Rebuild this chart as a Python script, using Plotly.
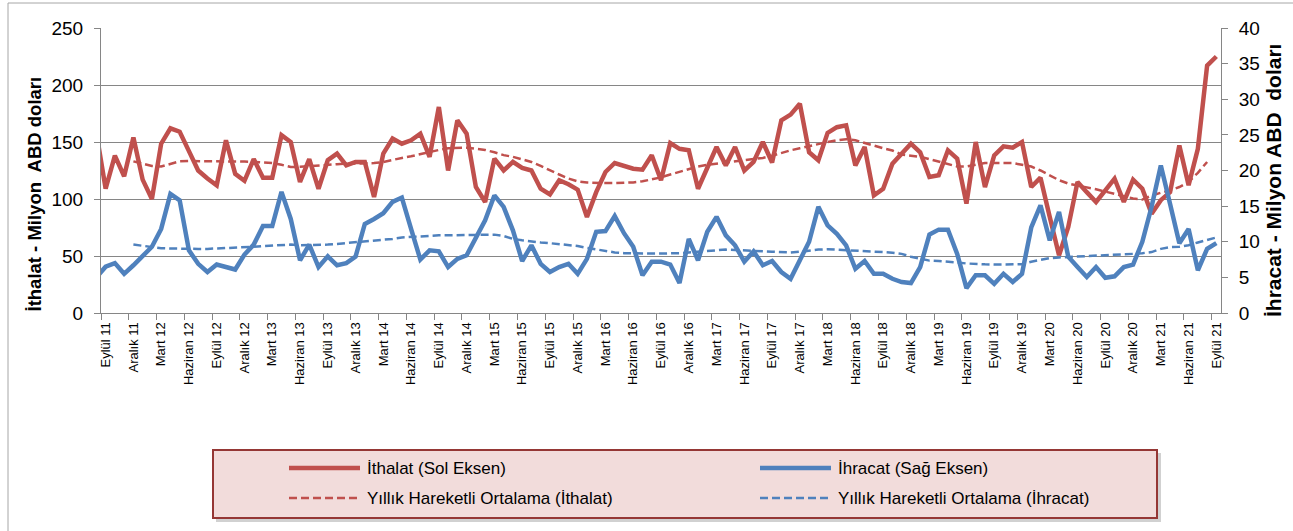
import plotly.graph_objects as go

# ---------------- data ----------------
MONTHS_TR = ["Ocak", "Şubat", "Mart", "Nisan", "Mayıs", "Haziran",
             "Temmuz", "Ağustos", "Eylül", "Ekim", "Kasım", "Aralık"]

# monthly categories Ağustos 11 ... Eylül 21 (first one lies just left of the axis)
categories = []
_y, _m = 2011, 8
while (_y, _m) <= (2021, 9):
    categories.append(f"{MONTHS_TR[_m - 1]} {_y % 100:02d}")
    _m += 1
    if _m > 12:
        _m, _y = 1, _y + 1

# Imports, million USD (left axis)
ithalat = [
    158,
    109, 138, 120, 154, 117, 100, 148.5, 162, 159, 142, 125, 118,
    112, 151.5, 122, 116, 135, 118.7, 118.7, 156, 150, 115, 135, 109,
    134, 139.8, 129.5, 132.5, 132.5, 101.8, 139.8, 153, 148.5, 151.5, 157.3, 137,
    180.7, 125, 169, 157.3, 110.5, 97.4, 135.4, 125, 132.5, 127.2, 125, 109,
    104, 116.4, 112.9, 108.2, 84.2, 106, 123.7, 131.6, 128.7, 126.6, 125.7, 138.3,
    116.4, 149, 144, 142.7, 109, 128, 145.6, 129.5, 145.6, 125, 132.5, 150,
    132, 169, 174, 183.6, 141, 134, 158, 163, 164.6, 129.5, 145.6, 103.2,
    109, 131, 139.8, 148.5, 141, 119.3, 120.8, 142.7, 135.4, 95.9, 150, 110.5,
    138.3, 146.2, 145, 150, 110.5, 118.7, 84.2, 50.6, 75.4, 115, 106, 97.4,
    107.6, 117.8, 97.4, 117, 109, 87, 99, 106, 147, 112, 144, 217,
    225,
]

# Exports, million USD (right axis)
ihracat = [
    5.0,
    6.5, 7.0, 5.5, 6.7, 7.9, 9.3, 11.8, 16.7, 15.8, 8.8, 6.9, 5.75,
    6.8, 6.45, 6.1, 8.2, 9.6, 12.2, 12.2, 17.0, 13.2, 7.4, 9.6, 6.45,
    7.95, 6.7, 7.0, 7.9, 12.5, 13.2, 14.0, 15.6, 16.2, 11.8, 7.5, 8.8,
    8.65, 6.45, 7.6, 8.1, 10.7, 13.0, 16.5, 14.9, 11.6, 7.3, 9.5, 6.9,
    5.75, 6.45, 6.9, 5.5, 7.6, 11.4, 11.5, 13.6, 11.2, 9.3, 5.3, 7.2,
    7.2, 6.8, 4.2, 10.4, 7.4, 11.4, 13.5, 10.9, 9.5, 7.2, 8.65, 6.7,
    7.3, 5.75, 4.8, 7.4, 10.0, 14.9, 12.3, 11.1, 9.5, 6.2, 7.3, 5.5,
    5.5, 4.8, 4.35, 4.2, 6.45, 11.0, 11.7, 11.7, 8.3, 3.5, 5.3, 5.3,
    4.1, 5.5, 4.35, 5.5, 12.0, 15.1, 10.2, 14.2, 7.9, 6.45, 5.05, 6.45,
    4.95, 5.15, 6.45, 6.8, 10.0, 14.9, 20.7, 15.3, 9.8, 11.8, 6.0, 9.0,
    9.8,
]

# 12-month moving averages (start Aralık 11)
ithalat_ort = [
    None, None, None, None,
    133, 131, 129, 128.5, 131, 133, 133.3, 133.3, 133,
    133, 133, 133, 132.8, 132.5, 132, 131.5, 130, 128, 128.3, 129,
    129.5, 130, 130.5, 131, 131, 131, 131.5, 132.5, 134.5, 136, 137.5, 139.5,
    141.5, 143, 144.5, 145, 145, 144, 143, 141, 138.5, 137, 135, 132.5,
    129, 125, 121.5, 118, 115.5, 114.5, 114, 114, 114, 114, 114.5, 115.5,
    117, 119, 121.5, 124, 126.5, 128.5, 130, 131, 132, 133, 134, 135,
    136, 138, 140.5, 142.7, 144.5, 146.5, 148.5, 150, 151.5, 152.5, 151.5, 149,
    147, 144.5, 142.5, 139, 138, 137, 135, 133, 130.5, 128.5, 128.5, 130,
    131.5, 131.5, 131.5, 131.5, 130, 128.5, 125, 120.5, 116.5, 113.5, 112, 110.5,
    108.5, 106.5, 104.7, 102.5, 100.5, 99.5, 103, 105.5, 107.5, 110.5, 115, 123,
    132.5,
]

ihracat_ort = [
    None, None, None, None,
    9.6, 9.4, 9.2, 9.1, 9.05, 9.0, 9.0, 9.0, 9.0,
    9.05, 9.1, 9.1, 9.2, 9.3, 9.4, 9.5, 9.6, 9.6, 9.5, 9.5, 9.55,
    9.6, 9.7, 9.8, 9.9, 10.0, 10.1, 10.2, 10.4, 10.6, 10.7, 10.8, 10.85,
    10.9, 10.9, 10.9, 10.9, 10.95, 11.0, 11.0, 10.8, 10.4, 10.2, 10.0, 9.9,
    9.8, 9.7, 9.6, 9.4, 9.15, 8.9, 8.65, 8.5, 8.4, 8.35, 8.35, 8.35,
    8.35, 8.35, 8.4, 8.5, 8.6, 8.75, 8.85, 8.9, 8.85, 8.75, 8.7, 8.65,
    8.6, 8.5, 8.5, 8.6, 8.8, 8.9, 8.95, 8.9, 8.85, 8.8, 8.75, 8.65,
    8.55, 8.45, 8.3, 7.9, 7.6, 7.35, 7.3, 7.25, 7.1, 6.95, 6.85, 6.83,
    6.8, 6.8, 6.8, 6.85, 7.2, 7.45, 7.7, 7.8, 7.85, 7.9, 7.95, 8.0,
    8.05, 8.1, 8.2, 8.3, 8.4, 8.55, 9.0, 9.25, 9.3, 9.5, 9.9, 10.2,
    10.6,
]

series_names = ["İthalat (Sol Eksen)", "İhracat (Sağ Eksen)",
                "Yıllık Hareketli Ortalama (İthalat)", "Yıllık Hareketli Ortalama (İhracat)"]
left_title = "İthalat - Milyon\u00a0 ABD doları"
right_title = "İhracat - Milyon ABD\u00a0 doları"

# ---------------- figure ----------------
x = list(range(-1, len(categories) - 1))      # Eylül 11 -> 0
tick_pos = [v for v in x if v >= 0 and v % 3 == 0]
tick_txt = [categories[v + 1] for v in tick_pos]

RED = "#C0504D"
BLUE = "#4F81BD"
GRID = "#868686"
FONT = "Liberation Sans, Arial, sans-serif"

fig = go.Figure()
fig.add_trace(go.Scatter(x=x, y=ithalat, mode="lines", name=series_names[0],
                         line=dict(color=RED, width=4.5), yaxis="y", showlegend=False))
fig.add_trace(go.Scatter(x=x, y=ithalat_ort, mode="lines", name=series_names[2],
                         line=dict(color=RED, width=2.5, dash="8px,4px"), yaxis="y",
                         showlegend=False))
fig.add_trace(go.Scatter(x=x, y=ihracat, mode="lines", name=series_names[1],
                         line=dict(color=BLUE, width=4.5), yaxis="y2", showlegend=False))
fig.add_trace(go.Scatter(x=x, y=ihracat_ort, mode="lines", name=series_names[3],
                         line=dict(color=BLUE, width=2.5, dash="8px,4px"), yaxis="y2",
                         showlegend=False))

L, R, T, B = 101, 72, 28, 218
W, H = 1293, 531
PW, PH = W - L - R, H - T - B


def px(xp):
    return (xp - L) / PW


def py(yp):
    return (H - B - yp) / PH


fig.update_layout(
    width=W, height=H,
    margin=dict(l=L, r=R, t=T, b=B),
    paper_bgcolor="white", plot_bgcolor="white",
    font=dict(family=FONT, color="#000000"),
    showlegend=False,
    xaxis=dict(
        range=[-0.5, len(categories) - 1.5],
        tickmode="array", tickvals=tick_pos, ticktext=tick_txt,
        tickangle=-90, tickfont=dict(size=13, family=FONT),
        ticks="", showgrid=False, zeroline=False,
        showline=True, linecolor=GRID, linewidth=1,
        ticklabelstandoff=3,
        minor=dict(tickmode="array", tickvals=[v - 0.5 for v in tick_pos],
                   ticks="outside", ticklen=6, tickcolor=GRID, tickwidth=1, showgrid=False),
    ),
    yaxis=dict(
        range=[0, 250], tickmode="array", tickvals=[0, 50, 100, 150, 200, 250],
        tickfont=dict(size=19, family=FONT),
        ticks="outside", ticklen=6, tickcolor=GRID, tickwidth=1,
        showline=True, linecolor=GRID, linewidth=1,
        showgrid=True, gridcolor=GRID, gridwidth=1, zeroline=False,
        ticklabelstandoff=7,
    ),
    yaxis2=dict(
        range=[0, 40], tickmode="array", tickvals=list(range(0, 41, 5)),
        overlaying="y", side="right", anchor="x",
        tickfont=dict(size=19, family=FONT),
        ticks="outside", ticklen=6, tickcolor=GRID, tickwidth=1,
        showline=True, linecolor=GRID, linewidth=1,
        showgrid=False, zeroline=False,
        ticklabelstandoff=7,
    ),
)

shapes = []
# outer chart border (top + left visible)
shapes.append(dict(type="rect", xref="paper", yref="paper",
                   x0=px(8), x1=px(1305), y0=py(545), y1=py(3),
                   line=dict(color="#A6A6A6", width=1), fillcolor="rgba(0,0,0,0)", layer="below"))
# legend shadow and box
shapes.append(dict(type="rect", xref="paper", yref="paper",
                   x0=px(216), x1=px(1161), y0=py(522), y1=py(453),
                   line=dict(width=0), fillcolor="rgba(0,0,0,0.18)"))
shapes.append(dict(type="rect", xref="paper", yref="paper",
                   x0=px(213), x1=px(1157), y0=py(518), y1=py(450),
                   line=dict(color="#953735", width=2), fillcolor="#F2DCDB"))

legend_items = [
    (series_names[0], RED, 4.5, "solid", 289, 468),
    (series_names[1], BLUE, 4.5, "solid", 760, 468),
    (series_names[2], RED, 2.5, "8px,4px", 289, 498),
    (series_names[3], BLUE, 2.5, "8px,4px", 760, 498),
]
annotations = []
for name, col, wid, dash, x0, yrow in legend_items:
    shapes.append(dict(type="line", xref="paper", yref="paper",
                       x0=px(x0), x1=px(x0 + 71), y0=py(yrow), y1=py(yrow),
                       line=dict(color=col, width=wid, dash=dash)))
    annotations.append(dict(text=name, xref="paper", yref="paper",
                            x=px(x0 + 76), y=py(yrow), xanchor="left", yanchor="middle",
                            showarrow=False, font=dict(size=17, family=FONT, color="#000000")))

annotations.append(dict(text=f"<b>{left_title}</b>", xref="paper", yref="paper",
                        x=px(33.5), y=py(194), xanchor="center", yanchor="middle",
                        textangle=-90, showarrow=False,
                        font=dict(size=18.5, family=FONT, color="#000000")))
annotations.append(dict(text=f"<b>{right_title}</b>", xref="paper", yref="paper",
                        x=px(1273), y=py(181), xanchor="center", yanchor="middle",
                        textangle=-90, showarrow=False,
                        font=dict(size=21, family=FONT, color="#000000")))

fig.update_layout(shapes=shapes, annotations=annotations)

fig.write_html("out.html", config={"displayModeBar": False},
               post_script="document.body.style.margin='0';")
